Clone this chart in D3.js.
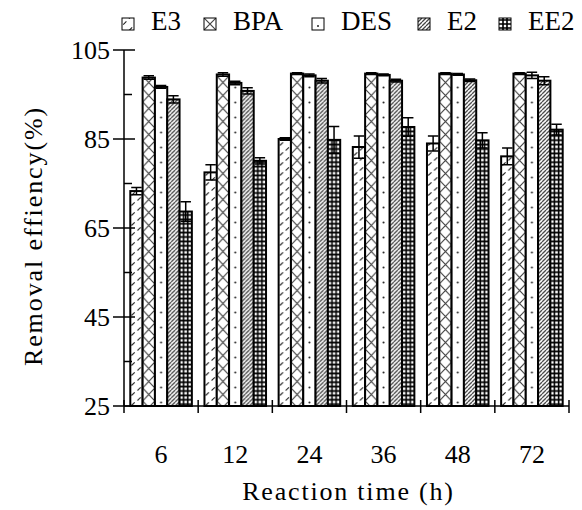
<!DOCTYPE html>
<html>
<head>
<meta charset="utf-8">
<script src="https://cdn.jsdelivr.net/npm/d3@7"></script>
<style>
  body { margin: 0; background: #fff; }
  text { font-family: "Liberation Serif", "Times New Roman", serif; fill: #000; }
</style>
</head>
<body>
<div id="chart"></div>
<script>
// data
const categories = ["6", "12", "24", "36", "48", "72"];
const seriesNames = ["E3", "BPA", "DES", "E2", "EE2"];
const valE3  = [73.3, 77.5, 85.0, 83.2, 84.0, 81.1];
const errE3  = [0.8, 1.7, 0.3, 2.5, 1.7, 1.9];
const valBPA = [98.8, 99.5, 99.7, 99.7, 99.7, 99.7];
const errBPA = [0.4, 0.4, 0.2, 0.2, 0.2, 0.2];
const valDES = [96.7, 97.6, 99.3, 99.4, 99.5, 99.3];
const errDES = [0.3, 0.4, 0.3, 0.2, 0.2, 0.7];
const valE2  = [93.9, 95.8, 98.1, 98.1, 98.2, 98.1];
const errE2  = [0.8, 0.7, 0.5, 0.3, 0.3, 0.9];
const valEE2 = [68.7, 80.1, 84.8, 87.7, 84.7, 87.1];
const errEE2 = [2.2, 0.7, 3.0, 2.1, 1.7, 1.2];
const yTicks = [25, 45, 65, 85, 105];
const yMinor = [35, 55, 75, 95];

const values = {E3: valE3, BPA: valBPA, DES: valDES, E2: valE2, EE2: valEE2};
const errors = {E3: errE3, BPA: errBPA, DES: errDES, E2: errE2, EE2: errEE2};

const width = 582, height = 510;
const margin = {top: 50, right: 13, bottom: 104, left: 124};
const w = width - margin.left - margin.right,
      h = height - margin.top - margin.bottom;

const svg = d3.select("#chart").append("svg")
    .attr("width", width)
    .attr("height", height);
const defs = svg.append("defs");

const x0 = d3.scaleBand().domain(categories).range([0, w]);
const pad = 6.3;
const x1 = d3.scaleBand().domain(seriesNames).range([pad, x0.step() - pad]);
const y = d3.scaleLinear().domain([25, 105]).range([h, 0]);
const bw = x1.bandwidth();

// hatch painters: draw one tile of width tw, height th
const painters = {
  E3: (p, tw, th) => {
    p.append("path")
      .attr("d", `M${tw*0.1},${th*0.55}l3.2,-3.2 M${tw*0.58},${th*1.05}l3.2,-3.2 M${tw*0.58},${th*0.05}l3.2,-3.2`)
      .attr("stroke", "#222").attr("stroke-width", 1.1).attr("fill", "none");
  },
  BPA: (p, tw, th) => {
    p.append("path")
      .attr("d", `M0,0L${tw},${th}M${tw},0L0,${th}`)
      .attr("stroke", "#444").attr("stroke-width", 1.2).attr("fill", "none");
  },
  DES: (p, tw, th) => {
    p.append("circle").attr("cx", tw/2).attr("cy", th/2).attr("r", 1).attr("fill", "#222");
  },
  E2: (p, tw, th) => {
    p.append("path")
      .attr("d", `M0,${th}L${th},0M${-th},${th}L0,0M${th},${th}L${2*th},0`)
      .attr("stroke", "#444").attr("stroke-width", 1.3).attr("fill", "none");
  },
  EE2: (p, tw, th) => {
    p.append("path")
      .attr("d", `M${tw/3},0V${th}M${2*tw/3},0V${th}M0,${th/2}H${tw}`)
      .attr("stroke", "#000").attr("stroke-width", 1.6).attr("fill", "none");
  }
};
const tileH = {E3: 10, BPA: 13, DES: 15, E2: 4, EE2: 4.4};

function makePattern(id, name, px, py, tw, th) {
  const p = defs.append("pattern")
      .attr("id", id)
      .attr("patternUnits", "userSpaceOnUse")
      .attr("x", px).attr("y", py)
      .attr("width", tw).attr("height", th);
  p.append("rect").attr("width", tw).attr("height", th).attr("fill", "#fff");
  painters[name](p.append("g"), tw, th);
}

// bar rects live in group-local coords, so align tiles to x1(s)
seriesNames.forEach(s => {
  const tw = s === "E2" ? tileH.E2 : bw;
  makePattern("pat-" + s, s, x1(s), 0, tw, tileH[s]);
});

const g = svg.append("g").attr("transform", `translate(${margin.left},${margin.top})`);

const rows = categories.map((c, i) => ({
  cat: c,
  bars: seriesNames.map(s => ({name: s, value: values[s][i], err: errors[s][i]}))
}));

const groups = g.selectAll(".grp")
  .data(rows)
  .join("g")
    .attr("class", "grp")
    .attr("transform", d => `translate(${x0(d.cat)},0)`);

groups.selectAll("rect")
  .data(d => d.bars)
  .join("rect")
    .attr("x", d => x1(d.name))
    .attr("y", d => y(d.value))
    .attr("width", bw)
    .attr("height", d => h - y(d.value))
    .attr("fill", d => `url(#pat-${d.name})`)
    .attr("stroke", "#000")
    .attr("stroke-width", 2);

// error bars
const cap = bw * 0.85;
groups.selectAll(".err")
  .data(d => d.bars)
  .join("path")
    .attr("class", "err")
    .attr("d", d => {
      const cx = x1(d.name) + bw / 2;
      const yt = y(d.value + d.err), yb = y(d.value - d.err);
      return `M${cx},${yt}V${yb}M${cx - cap/2},${yt}H${cx + cap/2}M${cx - cap/2},${yb}H${cx + cap/2}`;
    })
    .attr("stroke", "#000")
    .attr("stroke-width", 1.5)
    .attr("fill", "none");

// y axis
g.append("line").attr("x1", 0).attr("x2", 0).attr("y1", 0).attr("y2", h)
  .attr("stroke", "#000").attr("stroke-width", 1.5);
g.selectAll(".ymaj").data(yTicks).join("line")
  .attr("x1", -11).attr("x2", 11)
  .attr("y1", d => y(d)).attr("y2", d => y(d))
  .attr("stroke", "#000").attr("stroke-width", 1.5);
g.selectAll(".ymin").data(yMinor).join("line")
  .attr("x1", 0).attr("x2", 8)
  .attr("y1", d => y(d)).attr("y2", d => y(d))
  .attr("stroke", "#000").attr("stroke-width", 1.5);
g.selectAll(".ylab").data(yTicks).join("text")
  .attr("x", -14)
  .attr("y", d => y(d))
  .attr("dy", "0.35em")
  .attr("text-anchor", "end")
  .style("font-size", "26px")
  .text(d => d);

// x axis
g.append("line").attr("x1", 0).attr("x2", w).attr("y1", h).attr("y2", h)
  .attr("stroke", "#000").attr("stroke-width", 1.5);
const xb = categories.map(c => x0(c)).concat([w]);
g.selectAll(".xt").data(xb).join("line")
  .attr("x1", d => d).attr("x2", d => d)
  .attr("y1", h - 6).attr("y2", h + 7)
  .attr("stroke", "#000").attr("stroke-width", 1.5);
g.selectAll(".xlab").data(categories).join("text")
  .attr("x", d => x0(d) + x0.bandwidth() / 2)
  .attr("y", h + 57)
  .attr("text-anchor", "middle")
  .style("font-size", "26px")
  .text(d => d);

// axis titles
svg.append("text")
  .attr("x", margin.left + w / 2 + 2)
  .attr("y", 500)
  .attr("text-anchor", "middle")
  .style("font-size", "26px")
  .style("letter-spacing", "1.8px")
  .text("Reaction time (h)");

svg.append("text")
  .attr("transform", `translate(42,${margin.top + h / 2 + 8}) rotate(-90)`)
  .attr("text-anchor", "middle")
  .style("font-size", "26px")
  .style("letter-spacing", "1.9px")
  .text("Removal effiency(%)");

// legend
const legX = [122, 204, 312, 418, 499];
seriesNames.forEach(s => {
  const lt = s === "E2" ? 4 : 12;
  const lh = {E3: 12, BPA: 12, DES: 12, E2: 4, EE2: 4}[s];
  makePattern("leg-" + s, s, 0, s === "DES" ? 2 : 0, lt, lh);
});
const leg = svg.selectAll(".leg").data(seriesNames).join("g")
  .attr("class", "leg")
  .attr("transform", (d, i) => `translate(${legX[i]},18)`);
leg.append("rect")
  .attr("width", 12).attr("height", 12)
  .attr("fill", d => `url(#leg-${d})`)
  .attr("stroke", "#000").attr("stroke-width", 1);
leg.append("text")
  .attr("x", 29).attr("y", 12)
  .style("font-size", "27px")
  .text(d => d);
</script>
</body>
</html>
